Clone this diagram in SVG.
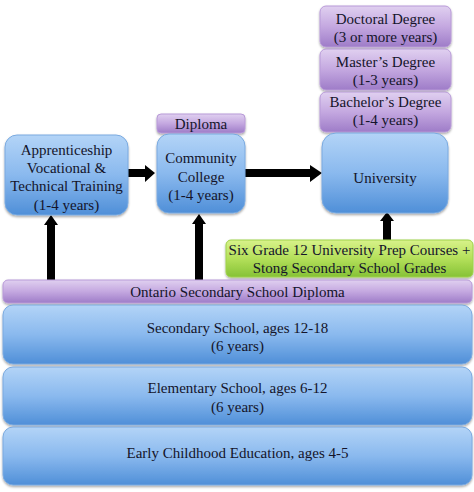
<svg xmlns="http://www.w3.org/2000/svg" width="474" height="492" viewBox="0 0 474 492">
<defs>
<linearGradient id="gBlue" x1="0" y1="0" x2="0" y2="1">
<stop offset="0" stop-color="#b3d4f7"/>
<stop offset="0.5" stop-color="#8ab9ee"/>
<stop offset="1" stop-color="#4f8fd8"/>
</linearGradient>
<linearGradient id="gPurple" x1="0" y1="0" x2="0" y2="1">
<stop offset="0" stop-color="#e0d0f0"/>
<stop offset="0.5" stop-color="#c4a8e0"/>
<stop offset="1" stop-color="#9e7cc8"/>
</linearGradient>
<linearGradient id="gGreen" x1="0" y1="0" x2="0" y2="1">
<stop offset="0" stop-color="#d8f28a"/>
<stop offset="0.5" stop-color="#b4e05a"/>
<stop offset="1" stop-color="#86c236"/>
</linearGradient>
<filter id="sh" x="-5%" y="-10%" width="110%" height="130%">
<feDropShadow dx="0" dy="1.5" stdDeviation="1.2" flood-color="#000" flood-opacity="0.35"/>
</filter>
</defs>
<style>
text{font-family:"Liberation Serif","Times New Roman",serif;font-size:15px;fill:#14142a;text-anchor:middle}
.blue{fill:url(#gBlue);stroke:#7aaae0;stroke-width:1;filter:url(#sh)}
.purple{fill:url(#gPurple);stroke:#b89ad8;stroke-width:1;filter:url(#sh)}
.green{fill:url(#gGreen);stroke:#9fd24a;stroke-width:1;filter:url(#sh)}
.arr{fill:#000}
</style>
<rect width="474" height="492" fill="#fff"/>

<g id="connectors">
<polygon class="arr" points="128,169 145,169 145,165 155,173 145,182 145,177 128,177"/>
<polygon class="arr" points="245,169 310,169 310,165 322,173 310,182 310,177 245,177"/>
<polygon class="arr" points="47,280 47,225 44,225 51,215 58,225 55,225 55,280"/>
<polygon class="arr" points="195,280 195,224 192,224 199,214 206,224 203,224 203,280"/>
<polygon class="arr" points="383,240 383,221 380,221 387,212 394,221 391,221 391,240"/>
</g>

<g id="doctoral">
<rect class="purple" x="320" y="6" width="131" height="41" rx="6"/>
<text x="385.5" y="24">Doctoral Degree</text>
<text x="385.5" y="42">(3 or more years)</text>
</g>
<g id="masters">
<rect class="purple" x="320" y="49" width="131" height="41" rx="6"/>
<text x="385.5" y="67">Master’s Degree</text>
<text x="385.5" y="85">(1-3 years)</text>
</g>
<g id="bachelors">
<rect class="purple" x="320" y="92" width="131" height="40" rx="6"/>
<text x="385.5" y="107">Bachelor’s Degree</text>
<text x="385.5" y="125">(1-4 years)</text>
</g>
<g id="diploma">
<rect class="purple" x="157" y="114" width="88" height="19" rx="4"/>
<text x="201" y="129">Diploma</text>
</g>

<g id="apprenticeship">
<rect class="blue" x="5" y="135" width="123" height="80" rx="12"/>
<text x="66.5" y="155">Apprenticeship</text>
<text x="66.5" y="173">Vocational &amp;</text>
<text x="66.5" y="191">Technical Training</text>
<text x="66.5" y="210">(1-4 years)</text>
</g>
<g id="college">
<rect class="blue" x="157" y="134" width="88" height="79" rx="12"/>
<text x="201" y="163">Community</text>
<text x="201" y="182">College</text>
<text x="201" y="200">(1-4 years)</text>
</g>
<g id="university">
<rect class="blue" x="322" y="133" width="126" height="80" rx="14"/>
<text x="385" y="183">University</text>
</g>

<g id="prep">
<rect class="green" x="226" y="240" width="247" height="37" rx="5"/>
<text x="349.5" y="255">Six Grade 12 University Prep Courses +</text>
<text x="349.5" y="273">Stong Secondary School Grades</text>
</g>

<g id="ossd">
<rect class="purple" x="3" y="280" width="469" height="23" rx="5"/>
<text x="237.5" y="297">Ontario Secondary School Diploma</text>
</g>
<g id="secondary">
<rect class="blue" x="3" y="305" width="469" height="59" rx="10"/>
<text x="237.5" y="333">Secondary School, ages 12-18</text>
<text x="237.5" y="351">(6 years)</text>
</g>
<g id="elementary">
<rect class="blue" x="3" y="367" width="469" height="58" rx="10"/>
<text x="237.5" y="393">Elementary School, ages 6-12</text>
<text x="237.5" y="412">(6 years)</text>
</g>
<g id="early">
<rect class="blue" x="3" y="427" width="469" height="58" rx="10"/>
<text x="237.5" y="458">Early Childhood Education, ages 4-5</text>
</g>
</svg>
